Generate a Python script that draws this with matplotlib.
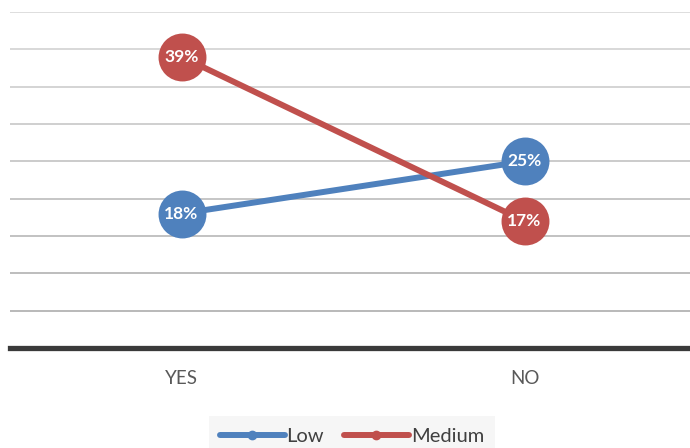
import matplotlib.pyplot as plt
from matplotlib.lines import Line2D

categories = ["YES", "NO"]
low = [18, 25]
medium = [39, 17]

series = [("Low", low, "#4f81bd"), ("Medium", medium, "#c0504d")]

plt.rcParams["font.family"] = ["Lato", "DejaVu Sans"]

fig = plt.figure(figsize=(6.9, 4.48), dpi=100)
ax = fig.add_axes([10 / 690, 100 / 448, 686 / 690, 336 / 448])

x = list(range(len(categories)))
ax.set_xlim(-0.5, 1.5)
ax.set_ylim(0, 45)

# gridlines, a bit darker towards the bottom like the original
for v in range(5, 50, 5):
    shade = 0.86 - 0.16 * (45 - v) / 40
    ax.axhline(v, color=(shade, shade, shade), lw=1.3, zorder=0)

for name, vals, col in series:
    ax.plot(x, vals, color=col, lw=4.3, marker="o", markersize=34.5,
            markeredgewidth=0, zorder=3, solid_capstyle="butt")
    for xi, v in zip(x, vals):
        ax.text(xi, v, f"{v}%", ha="center", va="center", color="white",
                fontsize=12.5, fontweight="bold", zorder=5)

for s in ["left", "right", "top"]:
    ax.spines[s].set_visible(False)
ax.spines["bottom"].set_color("#3a3a3a")
ax.spines["bottom"].set_linewidth(3.8)
ax.spines["bottom"].set_zorder(4)

ax.set_xticks(x)
ax.set_xticklabels(categories, fontsize=13.5, color="#595959")
ax.tick_params(axis="x", length=0, pad=16)
ax.set_yticks([])

handles = [Line2D([], [], color=col, lw=4.3, marker="o", markersize=6,
                  solid_capstyle="round") for _, _, col in series]
leg = fig.legend(handles, [s[0] for s in series], loc="center",
                 bbox_to_anchor=(352 / 690, 1 - 436 / 448), ncol=2,
                 fontsize=14.5, frameon=True, fancybox=False,
                 handlelength=3.2, handletextpad=0.1, columnspacing=1.0,
                 borderpad=0.55)
leg.get_frame().set_facecolor("#f4f4f4")
leg.get_frame().set_edgecolor("none")
for t in leg.get_texts():
    t.set_color("#404040")

fig.savefig("out.png", dpi=100)
